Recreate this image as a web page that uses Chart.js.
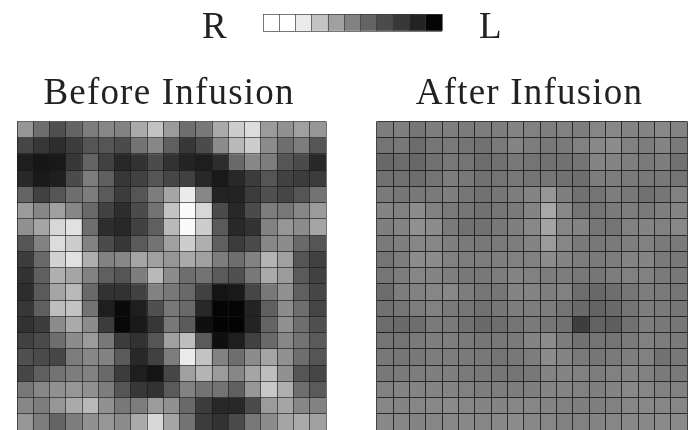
<!DOCTYPE html>
<html><head><meta charset="utf-8">
<script src="https://cdn.jsdelivr.net/npm/chart.js@4"></script>
<style>
html,body{margin:0;padding:0;background:#fff;width:693px;height:430px;overflow:hidden}
canvas{position:absolute;filter:blur(.6px)}
.lab{position:absolute;font:37px "Liberation Serif",serif;color:#222;line-height:40px;filter:blur(.4px)}
</style></head><body>
<canvas id="bar" style="left:263px;top:14px" width="180" height="18"></canvas>
<div class="lab" style="left:202px;top:6px">R</div>
<div class="lab" style="left:479px;top:6px">L</div>
<canvas id="left" style="left:0;top:72px" width="344" height="358"></canvas>
<canvas id="right" style="left:360px;top:72px" width="333" height="358"></canvas>
<script>
const scaleLevels=[255,255,235,195,160,130,100,75,55,35,5];
const columns=["1","2","3","4","5","6","7","8","9","10","11","12","13","14","15","16","17","18","19"];
const beforeRows=[
[150,110,80,100,125,135,130,170,195,155,110,120,170,205,220,155,145,160,150],
[70,55,45,60,85,85,75,115,135,95,55,75,140,185,205,140,110,125,85],
[30,22,25,55,100,65,40,50,75,50,35,30,45,105,135,125,85,75,40],
[40,25,30,75,125,95,55,65,85,70,65,40,25,40,60,85,65,60,60],
[100,65,85,110,125,90,60,85,125,165,235,135,35,35,60,80,70,85,115],
[155,135,160,135,105,65,45,75,115,195,250,215,75,40,75,125,120,135,155],
[145,165,215,225,110,45,40,65,95,185,250,205,90,40,50,130,150,140,165],
[85,130,220,205,130,75,55,90,115,160,205,175,95,60,75,135,140,105,85],
[60,105,210,225,175,130,135,165,160,150,170,160,125,110,130,180,160,85,65],
[50,95,175,165,130,95,85,125,185,140,110,115,90,80,120,170,155,90,65],
[45,90,165,185,105,50,50,65,130,120,105,65,20,25,70,120,145,95,70],
[55,95,190,195,115,30,10,30,80,120,105,40,5,5,35,95,140,110,70],
[50,60,140,170,140,60,8,25,55,120,90,15,3,3,35,100,145,110,80],
[65,75,110,140,155,120,60,50,85,160,190,90,15,30,65,105,135,115,90],
[80,75,70,125,135,130,90,40,65,125,235,195,130,110,140,165,145,110,85],
[70,95,115,125,130,105,60,30,20,70,160,180,155,135,165,190,145,85,70],
[120,135,145,150,145,125,85,55,50,90,130,115,115,95,150,200,175,110,90],
[135,125,150,170,185,145,120,125,155,145,105,60,40,40,75,155,165,135,130],
[150,125,100,125,145,150,140,170,215,165,115,60,50,75,120,140,165,170,160]];
const afterRows=[
[125,127,118,125,127,123,125,125,132,129,127,129,125,134,136,132,132,136,132],
[116,120,108,118,122,116,113,122,132,125,120,122,129,136,140,129,125,132,122],
[104,108,104,113,120,116,108,113,120,116,113,113,116,132,132,127,122,125,113],
[113,113,108,116,125,120,113,116,120,116,118,113,110,125,125,122,120,120,116],
[122,118,120,122,127,118,113,118,125,132,150,127,113,116,125,120,113,118,129],
[132,129,140,129,122,118,113,118,122,132,168,136,116,116,122,125,122,127,132],
[127,132,145,140,122,113,113,120,127,136,164,134,132,118,116,129,132,129,136],
[122,127,134,134,127,122,120,122,125,132,155,134,122,120,122,127,129,122,122],
[116,125,140,140,129,125,125,127,129,129,140,132,125,122,125,132,132,122,120],
[118,125,134,132,127,120,120,125,132,129,125,125,120,118,125,129,129,122,120],
[108,125,129,134,136,125,118,118,132,132,127,129,110,104,110,118,125,122,118],
[113,118,125,129,122,118,113,118,125,125,125,116,106,100,106,116,125,122,118],
[108,106,110,122,122,113,106,110,116,122,118,113,62,98,94,113,125,120,118],
[116,116,122,127,127,122,118,120,122,132,140,125,113,116,116,122,129,125,122],
[120,118,120,125,125,122,120,116,120,125,140,132,122,118,122,127,129,114,120],
[120,122,125,127,127,122,120,118,116,120,132,132,129,125,129,132,129,122,122],
[129,132,132,132,132,129,125,125,125,127,132,132,129,127,132,136,134,129,129],
[134,132,134,136,138,134,132,132,134,134,132,129,127,127,129,134,136,134,134],
[136,134,132,134,136,136,134,136,140,136,134,129,129,132,134,136,136,138,138]];
const titleLeft="Before Infusion";
const titleRight="After Infusion";
const gray=v=>`rgb(${v},${v},${v})`;
Chart.defaults.animation=false;
Chart.defaults.responsive=false;
const spacing={id:'spacing',beforeDraw(c){c.ctx.letterSpacing='1.2px';},afterDraw(c){c.ctx.letterSpacing='0px';}};
function panel(id,rows,title,pad,gridColor){
  new Chart(document.getElementById(id),{
    type:'bar',
    data:{labels:columns,datasets:rows.map(r=>({data:r.map(()=>1),backgroundColor:r.map(gray),borderWidth:0,barPercentage:1,categoryPercentage:1}))},
    plugins:[spacing],
    options:{
      layout:{padding:pad},
      plugins:{legend:{display:false},tooltip:{enabled:false},
        title:{display:true,text:title,color:'#222',padding:{top:0,bottom:5},font:{family:'"Liberation Serif",serif',size:37,weight:'normal'}}},
      scales:{
        x:{stacked:true,grid:{z:1,color:gridColor,lineWidth:1,drawTicks:false},border:{display:false},ticks:{display:false,autoSkip:false}},
        y:{stacked:true,reverse:true,min:0,max:19,afterFit(s){s.width=5;},grid:{z:1,color:gridColor,lineWidth:1,drawTicks:false},border:{display:false},ticks:{display:false,stepSize:1,autoSkip:false}}
      }
    }
  });
}
panel('left',beforeRows,titleLeft,{left:12,right:18,top:0,bottom:0},'rgba(25,25,25,.62)');
panel('right',afterRows,titleRight,{left:12,right:6,top:0,bottom:0},'rgba(20,20,20,.8)');
new Chart(document.getElementById('bar'),{
  type:'bar',
  data:{labels:scaleLevels.map(String),datasets:[{data:scaleLevels.map(()=>1),backgroundColor:scaleLevels.map(gray),borderWidth:0,barPercentage:1,categoryPercentage:1}]},
  options:{
    layout:{padding:{left:0,right:1,top:0,bottom:1}},
    plugins:{legend:{display:false},tooltip:{enabled:false},title:{display:false}},
    scales:{
      x:{grid:{z:1,color:'rgba(60,60,60,.7)',drawTicks:false},border:{display:false},ticks:{display:false,autoSkip:false}},
      y:{min:0,max:1,grid:{z:1,color:'rgba(60,60,60,.7)',drawTicks:false},border:{display:false},ticks:{display:false,stepSize:1}}
    }
  }
});
</script>
</body></html>
